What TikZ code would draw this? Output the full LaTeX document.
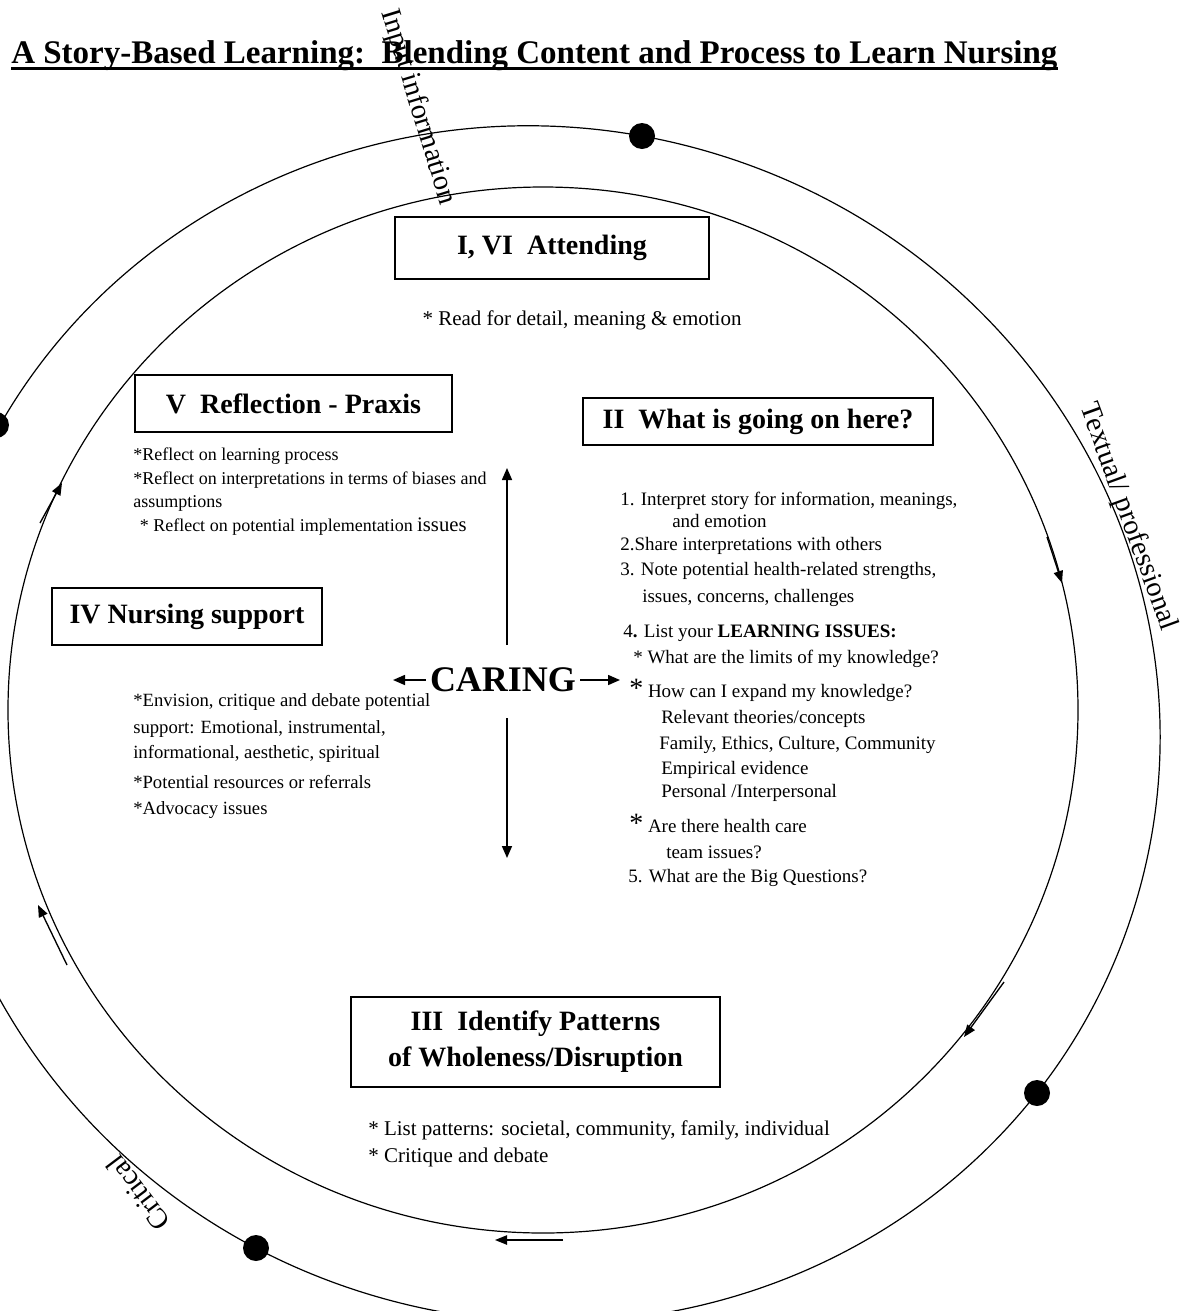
\documentclass[tikz,border=0pt]{standalone}
\usepackage{fontspec}
\setmainfont{Liberation Serif}
\usetikzlibrary{arrows.meta}
\newcommand{\myfs}[2]{\fontsize{#1}{#2}\selectfont}
\begin{document}
\begin{tikzpicture}[x=0.75pt,y=-0.75pt,
  ring/.style={line width=0.9pt},
  hd/.style={draw,line width=1.1pt,inner sep=0pt,font=\myfs{21}{27}\bfseries,align=center},
  bt/.style={inner sep=0pt,anchor=base west},
  tiparrow/.style={line width=1.2pt,-{Triangle[length=9pt,width=7.5pt]}},
  ringarrow/.style={line width=1pt,-{Triangle[length=9pt,width=7pt]}},
  dot/.style={circle,fill=black,inner sep=0pt,minimum size=19.5pt},
  lbl/.style={inner sep=0pt,font=\myfs{21.4}{26}},
  iifont/.style={font=\myfs{14.25}{17}},
  vfont/.style={font=\myfs{13.5}{16}},
  ivfont/.style={font=\myfs{14}{17}},
  iiifont/.style={font=\myfs{15.75}{19}}
]
\useasboundingbox (0,0) rectangle (1187,1311);
\clip (0,0) rectangle (1187,1311);
\fill[white] (0,0) rectangle (1187,1311);

% rings
\draw[ring] (543,710) ellipse [x radius=401.25pt, y radius=392.25pt];
\draw[ring, rotate around={-17:(542,724)}] (542,724) ellipse [x radius=465pt, y radius=447pt];

% dots on the outer ring
\node[dot] (d1) at (642,136) {};
\node[dot] (d2) at (1037,1093) {};
\node[dot] (d3) at (256,1248) {};
\node[dot] (d4) at (-4,425) {};

% arrows along the rings
\coordinate (r1a) at (40,523);   \coordinate (r1b) at (62,483);
\coordinate (r2a) at (67,965);   \coordinate (r2b) at (38,905);
\coordinate (r3a) at (1047,537); \coordinate (r3b) at (1062,583);
\coordinate (r4a) at (1004,982); \coordinate (r4b) at (964,1037);
\coordinate (r5a) at (563,1240); \coordinate (r5b) at (495,1240);
\draw[ringarrow] (r1a) -- (r1b);
\draw[ringarrow] (r2a) -- (r2b);
\draw[ringarrow] (r3a) -- (r3b);
\draw[ringarrow] (r4a) -- (r4b);
\draw[ringarrow] (r5a) -- (r5b);

% title
\node[bt,font=\myfs{24.75}{30}\bfseries] (title) at (11,63) {A Story-Based Learning:~~Blending Content and Process to Learn Nursing};
\draw[line width=2.2pt] ([yshift=-4pt]title.base west) -- ([yshift=-4pt]title.base east);

% ring labels
\node[lbl,rotate=-73] (linfo) at (418,107) {Input information};
\node[lbl,rotate=-70] (ltext) at (1128,517) {Textual/ professional};
\node[lbl,rotate=127] (lcrit) at (138,1193) {Critical};

% boxes
\node[hd,minimum width=235.5pt,minimum height=46.5pt] (b1) at (552,248) {I, VI~~Attending};
\node[hd,minimum width=262.5pt,minimum height=35.25pt] (b2) at (758,421.5) {II~~What is going on here?};
\node[hd,minimum width=237.75pt,minimum height=42.75pt] (b5) at (293.5,403.5) {V~~Reflection - Praxis};
\node[hd,minimum width=202.5pt,minimum height=42.75pt] (b4) at (187,616.5) {IV Nursing support};
\node[hd,minimum width=276.75pt,minimum height=67.5pt] (b3) at (535.5,1042) {III~~Identify Patterns\\of Wholeness/Disruption};

% Attending text
\node[inner sep=0pt,font=\myfs{15.75}{19},anchor=base] (t1) at (582,325) {* Read for detail, meaning \& emotion};

% Reflection text
\node[bt,vfont] (v1) at (133,460) {*Reflect on learning process};
\node[bt,vfont] (v2) at (133,484) {*Reflect on interpretations in terms of biases and};
\node[bt,vfont] (v3) at (133,507) {assumptions};
\node[bt,vfont] (v4) at (135,531) {~* Reflect on potential implementation {\myfs{15.5}{18}issues}};

% What is going on text
\node[bt,iifont] (w1) at (620,505) {1. Interpret story for information, meanings,};
\node[bt,iifont] (w2) at (672,527) {and emotion};
\node[bt,iifont] (w3) at (620,550) {2.Share interpretations with others};
\node[bt,iifont] (w4) at (620,575) {3. Note potential health-related strengths,};
\node[bt,iifont] (w5) at (642,602) {issues, concerns, challenges};
\node[bt,iifont] (w6) at (623,637) {4\textbf{.} List your \textbf{LEARNING ISSUES:}};
\node[bt,iifont] (w7) at (633,663) {* What are the limits of my knowledge?};
\node[bt,iifont] (w8) at (629,697) {{\myfs{21}{21}*} How can I expand my knowledge?};
\node[bt,iifont] (w9) at (661,723) {Relevant theories/concepts};
\node[bt,iifont] (w10) at (659,749) {Family, Ethics, Culture, Community};
\node[bt,iifont] (w11) at (661,774) {Empirical evidence};
\node[bt,iifont] (w12) at (661,797) {Personal /Interpersonal};
\node[bt,iifont] (w13) at (629,832) {{\myfs{21}{21}*} Are there health care};
\node[bt,iifont] (w14) at (666,858) {team issues?};
\node[bt,iifont] (w15) at (628,882) {5. What are the Big Questions?};

% Nursing support text
\node[bt,ivfont] (n1) at (133,706) {*Envision, critique and debate potential};
\node[bt,ivfont] (n2) at (133,733) {support: Emotional, instrumental,};
\node[bt,ivfont] (n3) at (133,758) {informational, aesthetic, spiritual};
\node[bt,ivfont] (n4) at (133,788) {*Potential resources or referrals};
\node[bt,ivfont] (n5) at (133,814) {*Advocacy issues};

% Patterns text
\node[bt,iiifont] (p1) at (368,1135) {* List patterns: societal, community, family, individual};
\node[bt,iiifont] (p2) at (368,1162) {* Critique and debate};

% CARING
\node[inner sep=3pt,font=\myfs{27}{30}\bfseries] (caring) at (503,680) {CARING};
\coordinate (cl) at (393,680);
\coordinate (cr) at (620,680);
\coordinate (cu1) at (507,645); \coordinate (cu2) at (507,468);
\coordinate (cd1) at (507,718); \coordinate (cd2) at (507,858);
\draw[tiparrow] (caring.west) -- (cl);
\draw[tiparrow] (caring.east) -- (cr);
\draw[tiparrow] (cu1) -- (cu2);
\draw[tiparrow] (cd1) -- (cd2);
\end{tikzpicture}
\end{document}
